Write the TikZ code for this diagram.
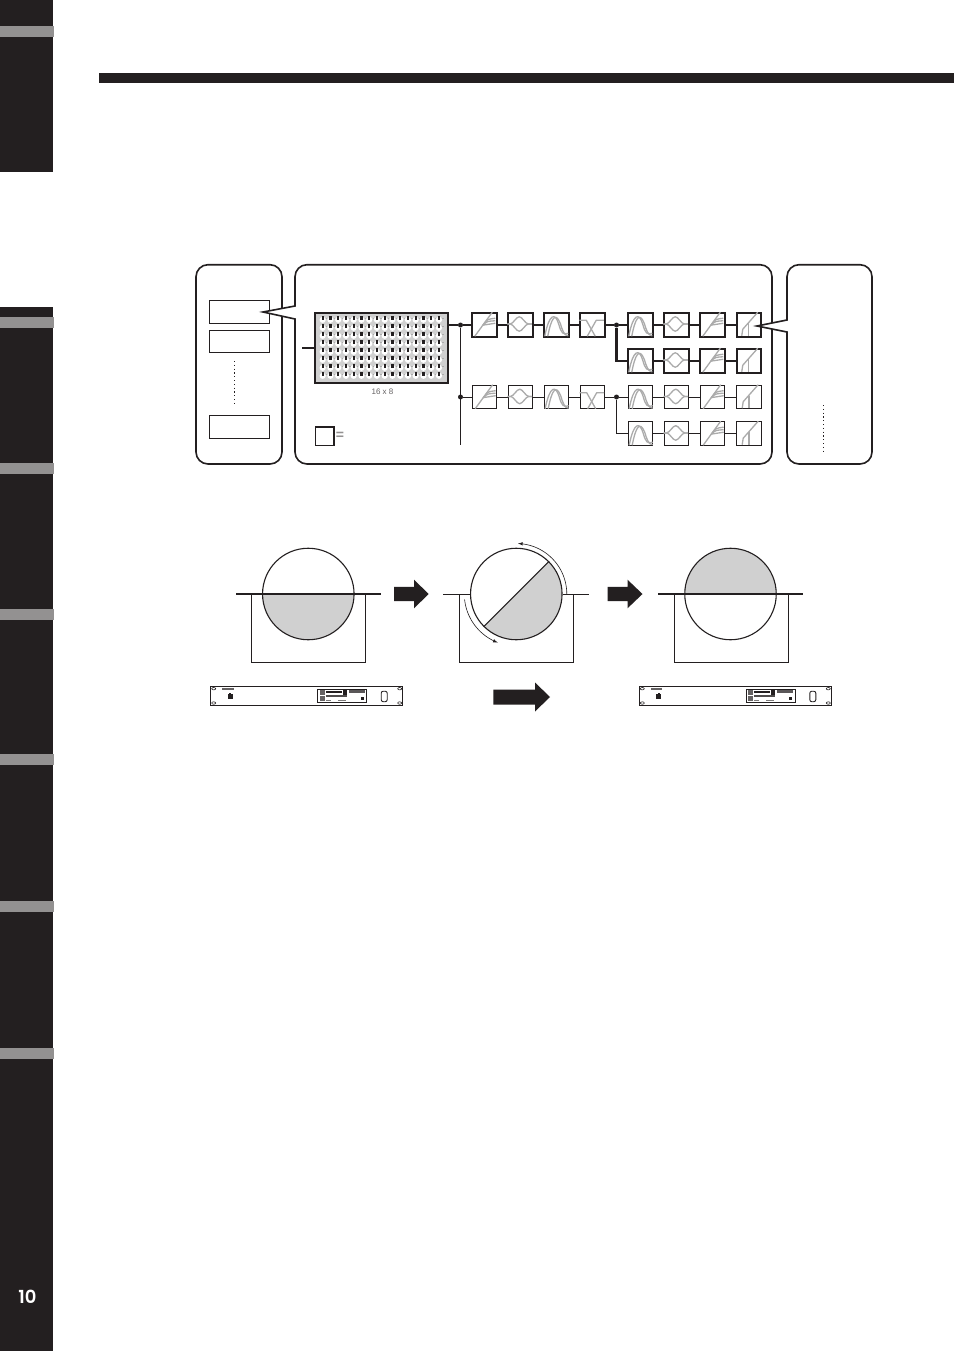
\documentclass[tikz,border=0pt]{standalone}
\usepackage{fontspec}
\usetikzlibrary{positioning}
\setmainfont{Liberation Sans}
\newfontfamily\pagefont[UprightFont=* SemiBold]{Poppins}
\definecolor{inkblack}{HTML}{231F20}
\definecolor{bandgray}{HTML}{939191}
\definecolor{curvegray}{HTML}{ABABAB}
\definecolor{fillgray}{HTML}{D0D0D0}
\tikzset{
  panel/.style={draw=inkblack, fill=white, line width=1.6},
  unitbox/.style={draw=inkblack, line width=1, minimum width=60, inner sep=0},
  blockthick/.style={draw=inkblack, line width=2, minimum width=24.5, minimum height=23.5, inner sep=0},
  blockthin/.style={draw=inkblack, line width=1.1, minimum width=24.5, minimum height=23.5, inner sep=0},
  wirethick/.style={draw=inkblack, line width=2.1},
  wirethin/.style={draw=inkblack, line width=1},
  joint/.style={circle, fill=inkblack, inner sep=0, minimum size=5},
  curve/.style={draw=curvegray, line width=1.3, line join=round},
  dotline/.style={draw=inkblack, line width=1, dash pattern=on 1.2 off 2.6},
  disc/.style={circle, draw=inkblack, line width=1.1, minimum size=91.5, inner sep=0},
  tray/.style={draw=inkblack, line width=1},
  rack/.style={draw=inkblack, line width=0.6},
}
\newcommand{\shelfcurve}[1]{\begin{scope}[shift={(#1.north west)}]
  \draw[curve] (3.5,24) -- (21,0);
  \draw[curve] (12,12.5) .. controls (16,7) .. (24,6);
  \draw[curve] (12,12.5) .. controls (16,9) .. (24,8.5);
  \draw[curve] (11,13) -- (24,11);
\end{scope}}
\newcommand{\peakcurve}[1]{\begin{scope}[shift={(#1.north west)}]
  \draw[curve] (0,11.7) -- (3,11.7) .. controls (6,11.5) and (9,4.5) .. (12,4.5) .. controls (15,4.5) and (18,11.5) .. (21,11.7) -- (24.5,11.7);
  \draw[curve] (0,11.7) -- (3,11.7) .. controls (6,12) and (9,19) .. (12,19) .. controls (15,19) and (18,12) .. (21,11.7) -- (24.5,11.7);
\end{scope}}
\newcommand{\bandcurve}[1]{\begin{scope}[shift={(#1.north west)}]
  \draw[curve] (1.5,24) .. controls (6,1) and (12,0) .. (15.5,12) .. controls (18,21) and (20,23) .. (25,21);
  \draw[curve] (4.5,24) .. controls (8,6) and (12,-1) .. (17,11) .. controls (19,18) and (21,23.5) .. (25,23.5);
\end{scope}}
\newcommand{\crosscurve}[1]{\begin{scope}[shift={(#1.north west)}]
  \draw[curve] (0,8) -- (7,8) -- (16,24);
  \draw[curve] (24.5,8) -- (17,8) -- (8,24);
\end{scope}}
\newcommand{\limitcurve}[1]{\begin{scope}[shift={(#1.north west)}]
  \draw[curve] (22,0) -- (7,17) -- (6,23.5);
  \draw[curve] (12.7,11) -- (12.7,23.5);
\end{scope}}
\newcommand{\bigarrow}[6]{\fill[inkblack] (#1,#5-#3) -- (#2,#5-#3) -- (#2,#5-#4) -- (#6,#5) -- (#2,#5+#4) -- (#2,#5+#3) -- (#1,#5+#3) -- cycle;}
\newcommand{\rackunit}[1]{\begin{scope}[shift={(#1,686.7)}]
  \draw[rack] (0,0) rectangle (192,18.3);
  \foreach \ex/\ey in {3/2,189/2,3/16.3,189/16.3} \draw[rack] (\ex,\ey) ellipse[x radius=2, y radius=1.2];
  \fill[inkblack!70] (11.5,1) rectangle (23,2.8);
  \fill[inkblack] (17,7.5) rectangle (22,12.5);
  \fill[inkblack] (18.5,6) rectangle (20.5,8);
  \draw[rack] (106.6,2.3) rectangle (156,16);
  \fill[inkblack!70] (109,3.5) rectangle (114,8);
  \fill[inkblack!70] (109,9) rectangle (114,14.5);
  \fill[inkblack] (115,4) rectangle (131,6);
  \fill[inkblack!80] (115,8) rectangle (136,10);
  \fill[inkblack] (132,3.5) rectangle (136,8);
  \fill[inkblack!60] (115,13) rectangle (120,14);
  \fill[inkblack!60] (127,13) rectangle (135,14);
  \fill[inkblack!75] (138,3.5) rectangle (154,6);
  \fill[inkblack] (150,10) rectangle (153,13);
  \draw[rack, line width=0.9, rounded corners=2] (170.5,4.5) rectangle (176.5,15);
\end{scope}}
\begin{document}
\begin{tikzpicture}[x=1pt, y=-1pt]
  \useasboundingbox (0,0) rectangle (954,1351);
  \fill[white] (0,0) rectangle (954,1351);
  \fill[inkblack] (0,0) rectangle (53,172);
  \fill[inkblack] (0,307) rectangle (53,1351);
  \fill[inkblack] (99,73) rectangle (954,83);
  \foreach \by in {26,317,463,609,754,901,1048}
    \fill[bandgray] (0,\by) rectangle (53.5,\by+11);
  \node[text=white, font=\pagefont\fontsize{18}{18}\selectfont] (pageno) at (27.5,1297) {10};

  \draw[panel, rounded corners=12] (196,264.7) rectangle (282,464);
  \node[unitbox, minimum height=23] (u1) at (239,311.5) {};
  \node[unitbox, minimum height=22] (u2) at (239,341) {};
  \node[unitbox, minimum height=23] (u3) at (239,426.5) {};
  \coordinate (d1) at (234.5,361);
  \coordinate (d2) at (234.5,406);
  \draw[dotline] (d1) -- (d2);

  \draw[panel] (295,319) [rounded corners=12] -- (295,464) -- (772,464) -- (772,264.7) -- (295,264.7) [sharp corners] -- (295,306) -- (263,312) -- (295,319) -- cycle;

  \node[draw=inkblack, fill=fillgray, line width=1.8, minimum width=133, minimum height=70, inner sep=0] (grid) at (381.5,348) {};
  \foreach \ci in {0,...,15} \foreach \rj in {0,...,7} {
    \fill[white] (322.7+7.75*\ci,319.8+8*\rj) circle[radius=3.1];
    \fill[inkblack] (321.6+7.75*\ci,316.4+8*\rj) rectangle (323.8+7.75*\ci,320.4+8*\rj);
    \fill[curvegray] (326+7.75*\ci,318.3+8*\rj) rectangle (327.3+7.75*\ci,319.1+8*\rj);
  }
  \node[text=inkblack!70, font=\fontsize{8}{8}\selectfont] (size) at (382.5,391.5) {16 x 8};
  \coordinate (in) at (302,348);
  \draw[wirethick] (in) -- (grid.west);

  \foreach \rw/\ry/\st in {1/325/blockthick, 2/361/blockthick, 3/397/blockthin, 4/433.5/blockthin} {
    \foreach \cl/\cx in {5/640.5, 6/676.5, 7/712.5, 8/749}
      \node[\st] (b\rw\cl) at (\cx,\ry) {};
  }
  \foreach \rw/\ry/\st in {1/325/blockthick, 3/397/blockthin} {
    \foreach \cl/\cx in {1/484.5, 2/520.5, 3/556.5, 4/592.5}
      \node[\st] (b\rw\cl) at (\cx,\ry) {};
  }
  \node[joint] (j1) at (460.5,325) {};
  \node[joint] (j3) at (460.5,397) {};
  \node[joint] (s1) at (616.5,325) {};
  \node[joint] (s3) at (616.5,397) {};
  \coordinate (bus) at (460.5,445);
  \draw[wirethick] (grid.east |- j1) -- (j1) -- (b11);
  \draw[wirethin] (j1) -- (bus);
  \draw[wirethin] (j3) -- (b31);
  \draw[wirethick] (b11) -- (b12);
  \draw[wirethick] (b12) -- (b13);
  \draw[wirethick] (b13) -- (b14);
  \draw[wirethick] (b14) -- (s1) -- (b15);
  \draw[wirethick] (s1) |- (b25);
  \draw[wirethin] (b31) -- (b32);
  \draw[wirethin] (b32) -- (b33);
  \draw[wirethin] (b33) -- (b34);
  \draw[wirethin] (b34) -- (s3) -- (b35);
  \draw[wirethin] (s3) |- (b45);
  \foreach \rw/\st in {1/wirethick, 2/wirethick, 3/wirethin, 4/wirethin} {
    \draw[\st] (b\rw5) -- (b\rw6);
    \draw[\st] (b\rw6) -- (b\rw7);
    \draw[\st] (b\rw7) -- (b\rw8);
  }
  \foreach \rw in {1,3} {
    \shelfcurve{b\rw1} \peakcurve{b\rw2} \bandcurve{b\rw3} \crosscurve{b\rw4}
  }
  \foreach \rw in {1,2,3,4} {
    \bandcurve{b\rw5} \peakcurve{b\rw6} \shelfcurve{b\rw7} \limitcurve{b\rw8}
  }
  \node[draw=inkblack, line width=1.3, minimum width=18.5, minimum height=18.5, inner sep=0] (key) at (324.8,436.3) {};
  \node[text=bandgray, font=\bfseries\fontsize{14}{14}\selectfont, inner sep=0, right=1 of key] (keyeq) {=};

  \draw[panel] (787,332) [rounded corners=12] -- (787,464) -- (872,464) -- (872,264.7) -- (787,264.7) [sharp corners] -- (787,320) -- (757,326) -- (787,332) -- cycle;
  \coordinate (d3) at (823.3,405);
  \coordinate (d4) at (823.3,452);
  \draw[dotline] (d3) -- (d4);

  \node[disc, path picture={\fill[fillgray] (path picture bounding box.west) rectangle (path picture bounding box.south east);}] (c1) at (308.3,594) {};
  \coordinate (l1) at (236,594);
  \coordinate (l2) at (381,594);
  \draw[draw=inkblack, line width=1.7] (l1) -- (l2);
  \draw[tray] (251.7,594) -- (251.7,662) -- (365.7,662) -- (365.7,594);

  \node[disc, path picture={\fill[fillgray] (path picture bounding box.north east) -- (path picture bounding box.south east) -- (path picture bounding box.south west) -- cycle;}] (c2) at (516.3,594) {};
  \draw[tray] (c2.45) -- (c2.225);
  \draw[tray] (443.3,594) -- (c2.west);
  \draw[tray] (c2.east) -- (589,594);
  \draw[tray] (459.3,594) -- (459.3,662) -- (573.3,662) -- (573.3,594);
  \draw[line width=0.6, draw=inkblack, -latex] plot[smooth, domain=0:88, samples=25] ({516.3+50.5*cos(\x)},{594-50.5*sin(\x)});
  \draw[line width=0.6, draw=inkblack, -latex] plot[smooth, domain=186:249, samples=25] ({516.3+52*cos(\x)},{594-52*sin(\x)});

  \node[disc, path picture={\fill[fillgray] (path picture bounding box.north west) rectangle (path picture bounding box.east);}] (c3) at (730.5,594) {};
  \coordinate (l3) at (658,594);
  \coordinate (l4) at (803,594);
  \draw[draw=inkblack, line width=1.1] (l3) -- (l4);
  \draw[tray] (674,594) -- (674,662) -- (788,662) -- (788,594);

  \bigarrow{394}{414}{7.2}{14.3}{594}{428.7}
  \bigarrow{607.5}{627.5}{7.2}{14.3}{594}{642.5}
  \bigarrow{493.3}{535}{7.5}{14.5}{697}{550}
  \rackunit{210.7}
  \rackunit{639.3}
\end{tikzpicture}
\end{document}
